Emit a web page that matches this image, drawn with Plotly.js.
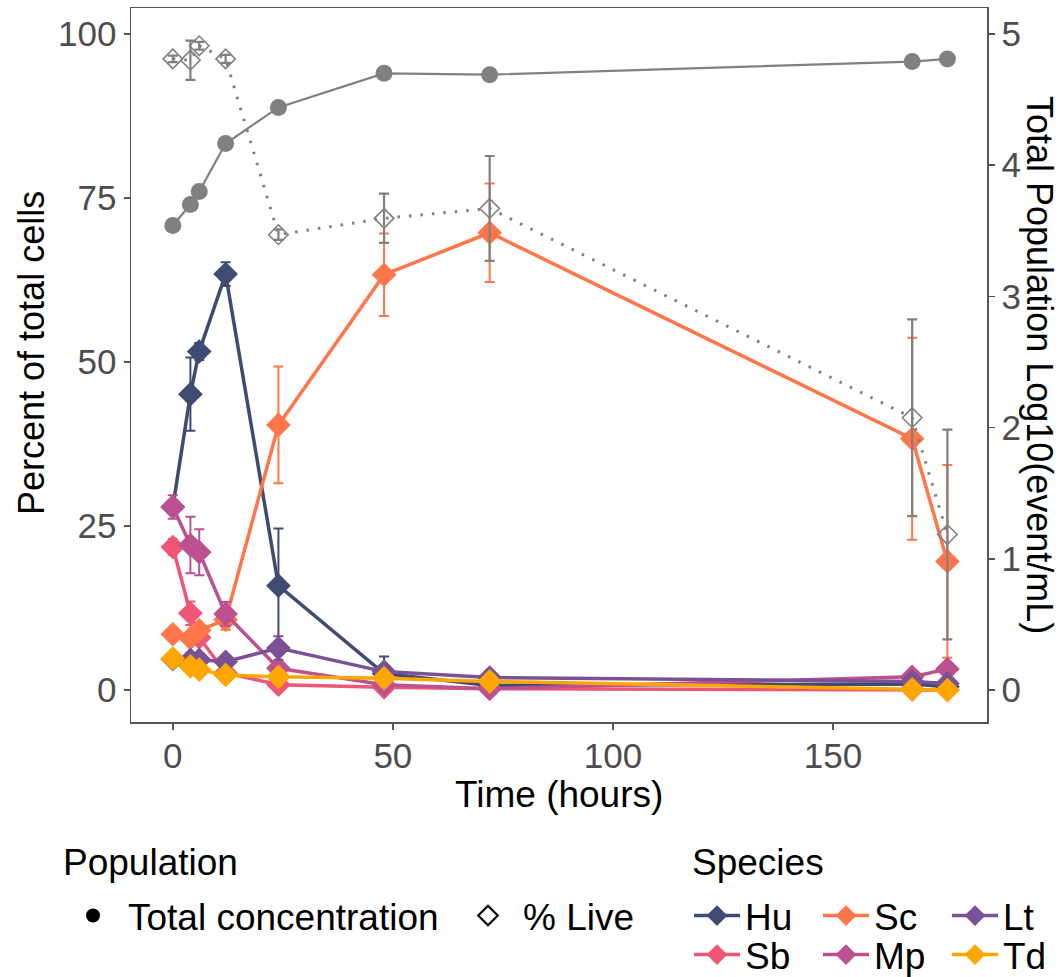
<!DOCTYPE html>
<html>
<head>
<meta charset="utf-8">
<script src="https://cdn.plot.ly/plotly-3.0.1.min.js"></script>
<style>html,body{margin:0;padding:0;background:#fff;}#chart{width:1061px;height:977px;}</style>
</head>
<body>
<div id="chart"></div>
<script>
// ---- data ----
const timeHours = [0, 4, 6, 12, 24, 48, 72, 168, 176];

const speciesNames = ["Hu", "Sb", "Sc", "Mp", "Lt", "Td"];
const speciesColors = ["#3f4b71", "#ef5675", "#ff764a", "#bc5090", "#7a5195", "#ffa600"];

const huPct = [27.9, 45.1, 51.6, 63.4, 15.9, 2.5, 0.7, 0.9, 0.5];
const huErr = [1.0, 5.6, 1.3, 1.8, 8.7, 2.6, 0.3, 0.3, 0.3];
const sbPct = [21.8, 11.7, 8.0, 2.6, 0.8, 0.4, 0.2, 0.1, 0.0];
const sbErr = [1.2, 1.8, 1.0, 0.5, 0.3, 0.2, 0.1, 0.1, 0.1];
const scPct = [8.5, 7.9, 9.1, 10.7, 40.4, 63.3, 69.7, 38.3, 19.6];
const scErr = [0.8, 0.8, 1.0, 1.5, 8.9, 6.3, 7.5, 15.4, 14.7];
const mpPct = [27.9, 22.1, 21.0, 11.6, 3.3, 0.8, 0.2, 2.0, 3.2];
const mpErr = [1.8, 4.3, 3.5, 1.8, 1.0, 0.5, 0.2, 0.5, 0.5];
const ltPct = [4.7, 4.6, 4.6, 4.3, 6.4, 2.8, 1.9, 1.3, 1.0];
const ltErr = [0.5, 0.5, 0.5, 0.3, 1.8, 0.5, 0.3, 0.3, 0.5];
const tdPct = [4.8, 3.6, 3.1, 2.3, 2.0, 1.8, 1.3, 0.1, 0.0];
const tdErr = [0.3, 0.3, 0.3, 0.3, 0.2, 0.2, 0.2, 0.1, 0.1];

const speciesPct = [huPct, sbPct, scPct, mpPct, ltPct, tdPct];
const speciesErr = [huErr, sbErr, scErr, mpErr, ltErr, tdErr];

const livePct = [96.2, 96.0, 98.2, 96.2, 69.4, 71.9, 73.4, 41.5, 23.7];
const liveErr = [0.5, 3.0, 0.6, 0.6, 0.8, 3.75, 8.0, 15.0, 16.0];
const totalLog10 = [3.54, 3.70, 3.80, 4.165, 4.44, 4.70, 4.69, 4.79, 4.81];

const xTicks = [0, 50, 100, 150];
const yTicks = [0, 25, 50, 75, 100];
const y2Ticks = [0, 1, 2, 3, 4, 5];

// ---- chart ----
const FONT = "Liberation Sans, Arial, sans-serif";
const GREY = "#808080";
const W = 1061, H = 977;
const PL = 131, PR = 987, PT = 8, PB = 722;   // plot area in px
const px2paperX = p => (p - PL) / (PR - PL);
const px2paperY = p => (PB - p) / (PB - PT);

const traces = [];
speciesNames.forEach((name, i) => {
  traces.push({
    type: "scatter", mode: "lines+markers", name: name,
    x: timeHours, y: speciesPct[i],
    line: {color: speciesColors[i], width: 3.5},
    marker: {symbol: "diamond", size: 19, color: speciesColors[i]},
    error_y: {type: "data", array: speciesErr[i], visible: true, color: speciesColors[i], thickness: 2, width: 5},
    legend: (i % 2 === 0) ? "legend2" : "legend3",
    showlegend: true
  });
});

traces.push({
  type: "scatter", mode: "lines+markers", name: "% Live",
  x: timeHours, y: livePct,
  line: {color: GREY, width: 3, dash: "2.5px,9px"},
  marker: {symbol: "diamond-open", size: 15, color: GREY, line: {width: 1.6, color: GREY}},
  error_y: {type: "data", array: liveErr, visible: true, color: GREY, thickness: 2.2, width: 5},
  showlegend: false
});
traces.push({
  type: "scatter", mode: "lines+markers", name: "Total concentration",
  x: timeHours, y: totalLog10, yaxis: "y2",
  line: {color: GREY, width: 2.2},
  marker: {symbol: "circle", size: 17, color: GREY},
  showlegend: false
});
// legend keys for Population
traces.push({type: "scatter", mode: "markers", name: "Total concentration", x: [null], y: [null],
  marker: {symbol: "circle", size: 14, color: "black"}, legend: "legend", showlegend: true});
traces.push({type: "scatter", mode: "markers", name: "% Live", x: [null], y: [null],
  marker: {symbol: "diamond-open", size: 15, color: "black", line: {width: 2.2, color: "black"}}, legend: "legend", showlegend: true});

const axisCommon = {
  showgrid: false, zeroline: false, showline: true, linecolor: "#555555", linewidth: 1.5,
  ticks: "outside", ticklen: 6, tickwidth: 1.5, tickcolor: "#555555",
  tickfont: {family: FONT, size: 35, color: "#4d4d4d"}
};

const legendCommon = {
  xref: "container", yref: "container", xanchor: "left", yanchor: "middle",
  orientation: "h", bgcolor: "rgba(0,0,0,0)", borderwidth: 0,
  font: {family: FONT, size: 37, color: "black"}
};

const titleFont = {family: FONT, size: 36, color: "black"};

const layout = {
  width: W, height: H,
  margin: {l: PL, r: W - PR, t: PT, b: H - PB, autoexpand: false},
  paper_bgcolor: "white", plot_bgcolor: "white",
  font: {family: FONT},
  xaxis: Object.assign({}, axisCommon, {range: [-9.5, 185], tickvals: xTicks, mirror: true, ticklabelstandoff: -4}),
  yaxis: Object.assign({}, axisCommon, {range: [-4.88, 103.96], tickvals: yTicks}),
  yaxis2: Object.assign({}, axisCommon, {
    range: [-0.244, 5.198], tickvals: y2Ticks, overlaying: "y", side: "right"
  }),
  legend: Object.assign({}, legendCommon, {
    x: 58 / W, y: 1 - 916 / H, itemwidth: 60, entrywidth: 320
  }),
  legend2: Object.assign({}, legendCommon, {
    x: 689 / W, y: 1 - 916 / H, itemwidth: 46, entrywidth: 68
  }),
  legend3: Object.assign({}, legendCommon, {
    x: 689 / W, y: 1 - 955 / H, itemwidth: 46, entrywidth: 68
  }),
  annotations: [
    {
      text: "Time (hours)", xref: "paper", yref: "paper",
      x: 0.5, y: px2paperY(794), xanchor: "center", yanchor: "middle",
      showarrow: false, font: {family: FONT, size: 37, color: "black"}
    },
    {
      text: "Percent of total cells", textangle: -90, xref: "paper", yref: "paper",
      x: px2paperX(32), y: px2paperY(353), xanchor: "center", yanchor: "middle",
      showarrow: false, font: titleFont
    },
    {
      text: "Total Population Log10(event/mL)", textangle: 90,
      xref: "paper", yref: "paper", x: px2paperX(1040), y: 0.5, xanchor: "center", yanchor: "middle",
      showarrow: false, font: titleFont
    },
    {
      text: "Population", xref: "paper", yref: "paper",
      x: px2paperX(61), y: px2paperY(862), xanchor: "left", yanchor: "middle",
      showarrow: false, font: {family: FONT, size: 37, color: "black"}
    },
    {
      text: "Species", xref: "paper", yref: "paper",
      x: px2paperX(690), y: px2paperY(862), xanchor: "left", yanchor: "middle",
      showarrow: false, font: {family: FONT, size: 37, color: "black"}
    }
  ]
};

Plotly.newPlot("chart", traces, layout, {displayModeBar: false, staticPlot: true});
</script>
</body>
</html>
